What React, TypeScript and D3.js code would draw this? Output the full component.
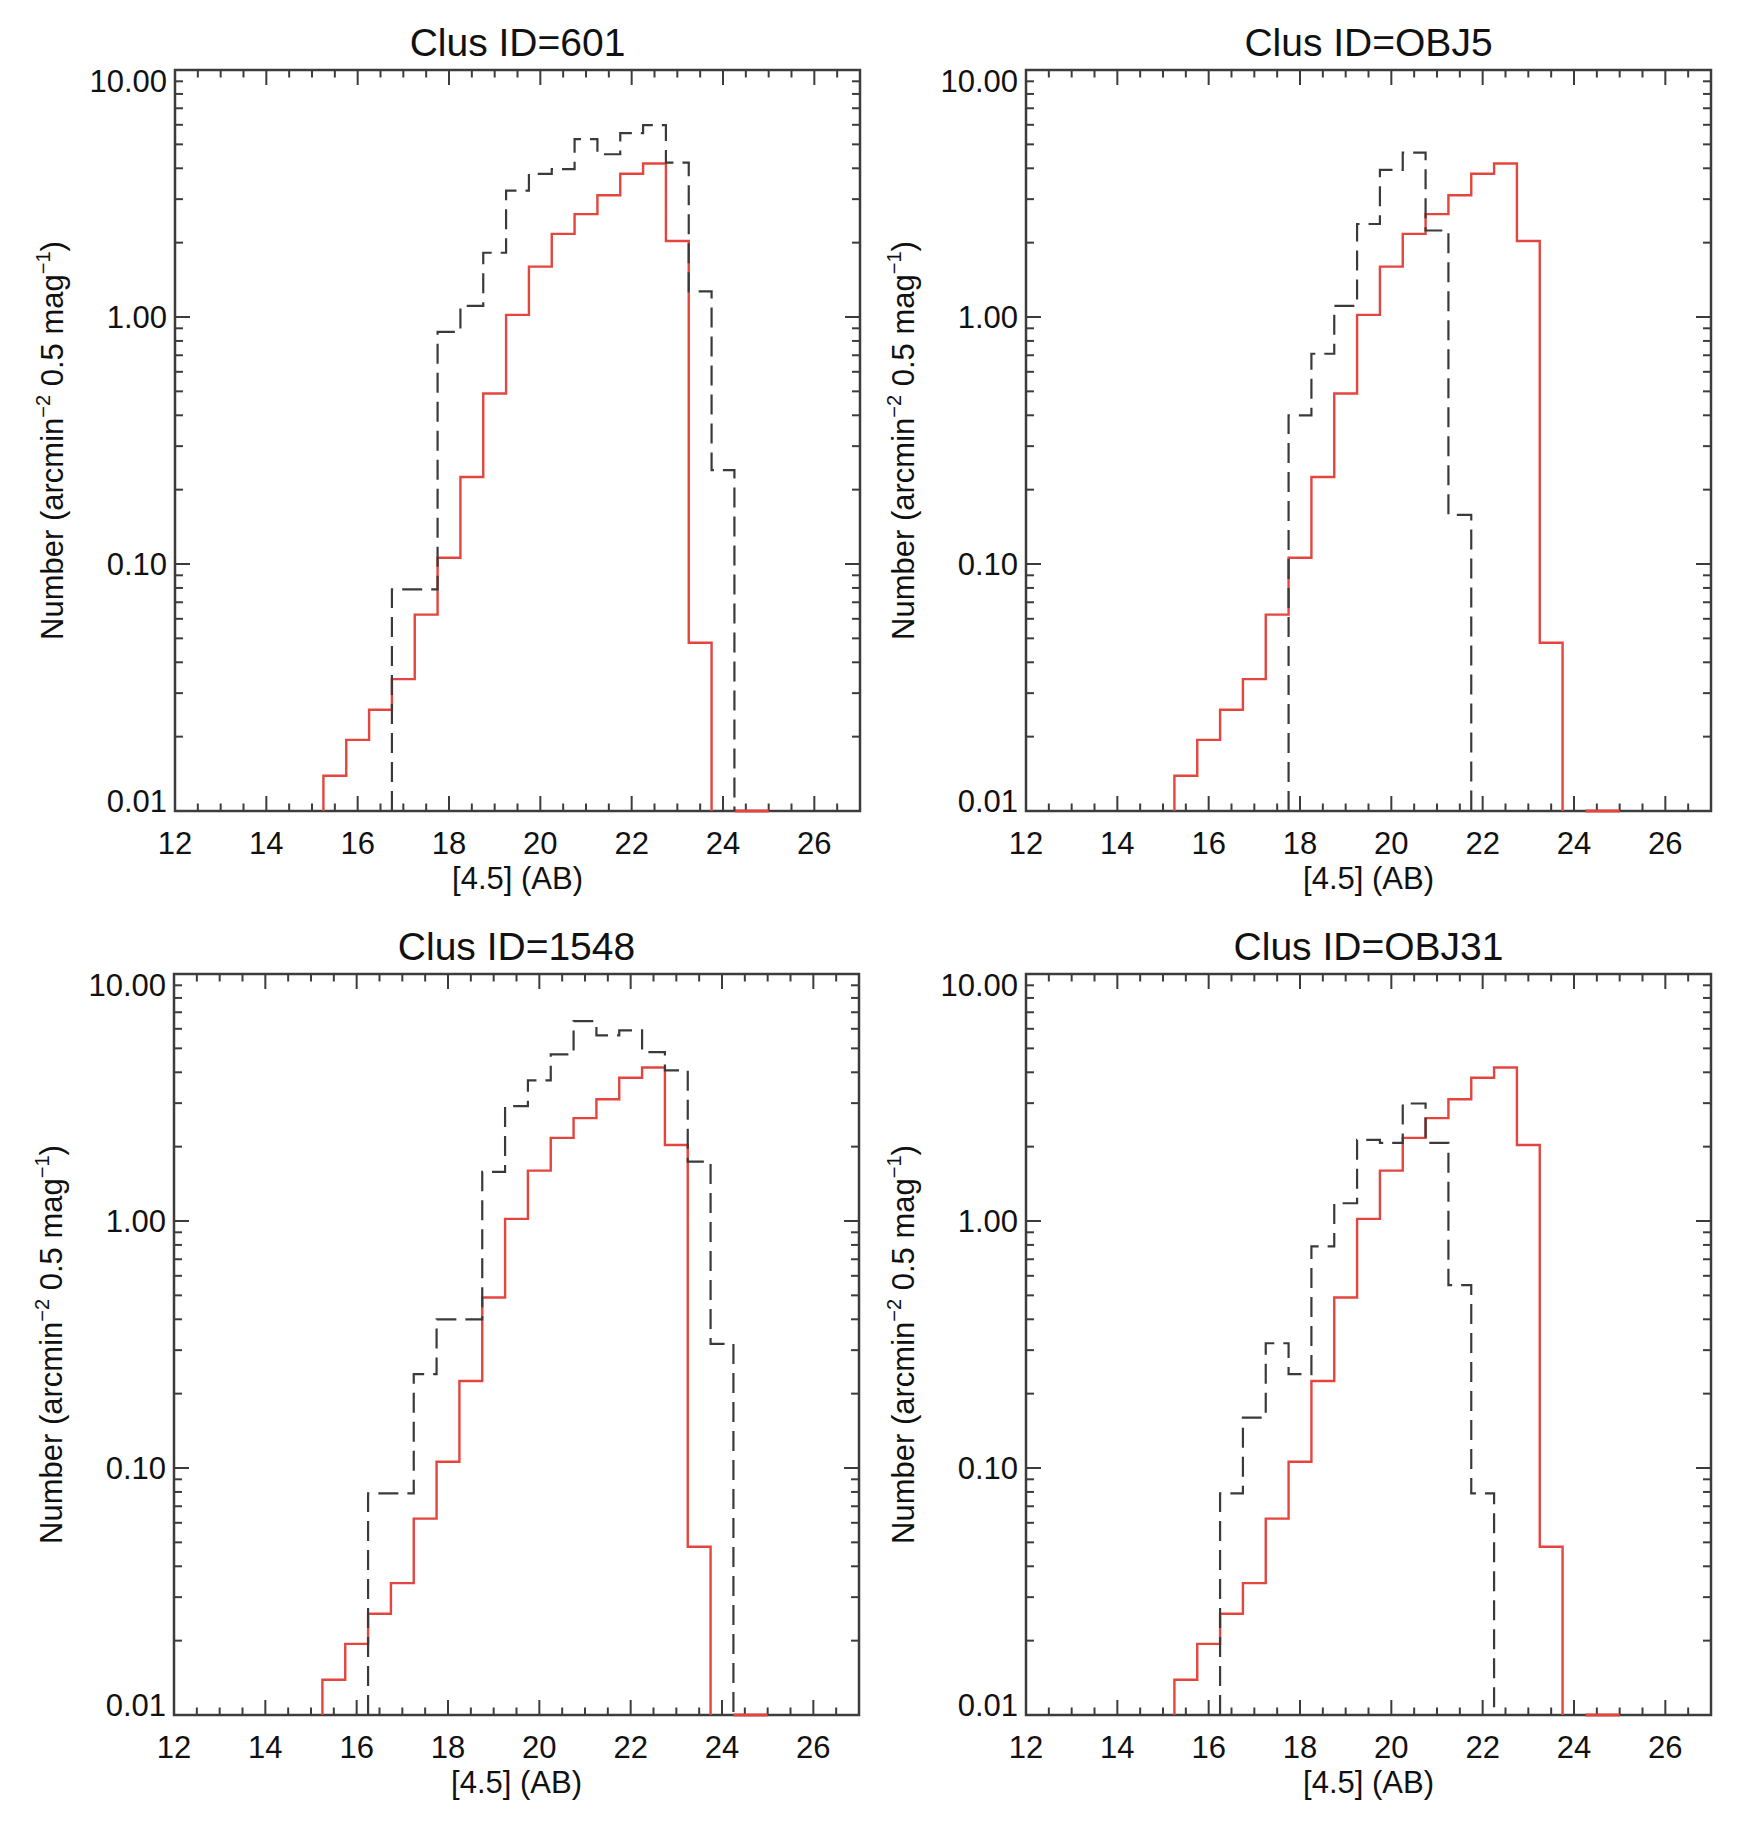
import * as d3 from 'd3'

// ── axes ──────────────────────────────────────────────────────────────────────
const X_DOMAIN: [number, number] = [12, 27]
const Y_DOMAIN: [number, number] = [0.01, 10]
const X_LABELS = [12, 14, 16, 18, 20, 22, 24, 26]
const Y_LABELS = [0.01, 0.1, 1, 10]
const Y_LABEL_TXT = ['0.01', '0.10', '1.00', '10.00']

// ── field histogram (red, same in every panel) ───────────────────────────────
const FIELD_EDGES = [15.25, 15.75, 16.25, 16.75, 17.25, 17.75, 18.25, 18.75, 19.25, 19.75, 20.25, 20.75, 21.25, 21.75, 22.25, 22.75, 23.25, 23.75]
const FIELD_N     = [0.0139, 0.0194, 0.0257, 0.0342, 0.0624, 0.106, 0.225, 0.49, 1.02, 1.6, 2.17, 2.61, 3.11, 3.8, 4.18, 2.03, 0.048]
// part of the field histogram that sits on the 0.01 floor
const FIELD_TAIL  = [24.25, 25.0]

// ── cluster histograms (dashed) ──────────────────────────────────────────────
const EDGES_601 = [16.75, 17.25, 17.75, 18.25, 18.75, 19.25, 19.75, 20.25, 20.75, 21.25, 21.75, 22.25, 22.75, 23.25, 23.75, 24.25]
const N_601     = [0.079, 0.079, 0.87, 1.11, 1.82, 3.25, 3.8, 3.97, 5.25, 4.56, 5.55, 5.98, 4.22, 1.27, 0.24]

const EDGES_OBJ5 = [17.75, 18.25, 18.75, 19.25, 19.75, 20.25, 20.75, 21.25, 21.75]
const N_OBJ5     = [0.40, 0.71, 1.11, 2.38, 3.94, 4.63, 2.24, 0.158]

const EDGES_1548 = [16.25, 16.75, 17.25, 17.75, 18.25, 18.75, 19.25, 19.75, 20.25, 20.75, 21.25, 21.75, 22.25, 22.75, 23.25, 23.75, 24.25]
const N_1548     = [0.079, 0.079, 0.24, 0.40, 0.40, 1.58, 2.92, 3.71, 4.73, 6.44, 5.64, 5.91, 4.83, 4.07, 1.74, 0.318]

const EDGES_OBJ31 = [16.25, 16.75, 17.25, 17.75, 18.25, 18.75, 19.25, 19.75, 20.25, 20.75, 21.25, 21.75, 22.25]
const N_OBJ31     = [0.079, 0.16, 0.32, 0.24, 0.79, 1.18, 2.13, 2.07, 2.99, 2.07, 0.55, 0.079]

const CLUSTERS = [
  { id: '601',   edges: EDGES_601,   n: N_601 },
  { id: 'OBJ5',  edges: EDGES_OBJ5,  n: N_OBJ5 },
  { id: '1548',  edges: EDGES_1548,  n: N_1548 },
  { id: 'OBJ31', edges: EDGES_OBJ31, n: N_OBJ31 },
]

// ── style ────────────────────────────────────────────────────────────────────
const FONT   = '"Liberation Sans", Arial, Helvetica, sans-serif'
const C_AX   = '#3c3c3c'
const C_RED  = '#e4463f'
const C_DASH = '#3a3a3a'
const PW = 685
const PH = 741
const ORIGINS = [
  { left: 175,  top: 70 },
  { left: 1026, top: 70 },
  { left: 174,  top: 974 },
  { left: 1026, top: 974 },
]

type Pt = [number, number]

// step outline: up from the floor, across each bin, back down to the floor
function stepData(edges: number[], vals: number[]): Pt[] {
  const floor = Y_DOMAIN[0]
  const pts: Pt[] = [[edges[0], floor]]
  vals.forEach((v, i) => pts.push([edges[i], v]))
  pts.push([edges[edges.length - 1], floor])
  return pts
}

function Panel({ left, top, id, edges, n }: { left: number; top: number; id: string; edges: number[]; n: number[] }) {
  const x = d3.scaleLinear().domain(X_DOMAIN).range([left, left + PW])
  const y = d3.scaleLog().domain(Y_DOMAIN).range([top + PH, top]).clamp(true)
  const bottom = top + PH
  const right = left + PW

  const line = d3.line<Pt>()
    .x(d => x(d[0]))
    .y(d => y(Math.max(d[1], Y_DOMAIN[0])))
    .curve(d3.curveStepAfter)

  const xTicks = x.ticks(30)
  const yTicks = y.ticks()
  const isMajorX = (v: number) => X_LABELS.includes(v)
  const isMajorY = (v: number) => Y_LABELS.some(m => Math.abs(m - v) < 1e-9)

  return (
    <g>
      {/* frame */}
      <rect x={left} y={top} width={PW} height={PH} fill="none" stroke={C_AX} strokeWidth={2.5} />

      {/* x ticks, top and bottom */}
      {xTicks.map(v => {
        const len = isMajorX(v) ? 15 : 7.5
        return (
          <g key={'x' + v} stroke={C_AX} strokeWidth={2}>
            <line x1={x(v)} x2={x(v)} y1={bottom} y2={bottom - len} />
            <line x1={x(v)} x2={x(v)} y1={top} y2={top + len} />
          </g>
        )
      })}

      {/* y ticks, left and right */}
      {yTicks.map(v => {
        const len = isMajorY(v) ? 15 : 8
        return (
          <g key={'y' + v} stroke={C_AX} strokeWidth={2}>
            <line x1={left} x2={left + len} y1={y(v)} y2={y(v)} />
            <line x1={right} x2={right - len} y1={y(v)} y2={y(v)} />
          </g>
        )
      })}

      {/* histograms */}
      <path d={line(stepData(FIELD_EDGES, FIELD_N)) ?? ''} fill="none" stroke={C_RED} strokeWidth={2.4} />
      <line x1={x(FIELD_TAIL[0])} x2={x(FIELD_TAIL[1])} y1={y(Y_DOMAIN[0])} y2={y(Y_DOMAIN[0])}
        stroke={C_RED} strokeWidth={3} />
      <path d={line(stepData(edges, n)) ?? ''} fill="none" stroke={C_DASH} strokeWidth={2.2}
        strokeDasharray="20,9" />

      {/* tick labels */}
      {X_LABELS.map(v => (
        <text key={'xl' + v} x={x(v)} y={bottom + 43} textAnchor="middle" fontSize={31} fontFamily={FONT} fill="#111">
          {v}
        </text>
      ))}
      {Y_LABELS.map((v, i) => {
        const dy = i === 0 ? 1 : i === Y_LABELS.length - 1 ? 22 : 11
        return (
          <text key={'yl' + v} x={left - 8} y={y(v) + dy} textAnchor="end" fontSize={31} fontFamily={FONT} fill="#111">
            {Y_LABEL_TXT[i]}
          </text>
        )
      })}

      {/* titles */}
      <text x={left + PW / 2} y={top - 14} textAnchor="middle" fontSize={39} fontFamily={FONT} fill="#111">
        {`Clus ID=${id}`}
      </text>
      <text x={left + PW / 2} y={bottom + 78} textAnchor="middle" fontSize={31} fontFamily={FONT} fill="#111">
        [4.5] (AB)
      </text>
      <text transform={`translate(${left - 112},${top + PH / 2}) rotate(-90)`} textAnchor="middle"
        fontSize={31} fontFamily={FONT} fill="#111">
        <tspan>Number (arcmin</tspan>
        <tspan fontSize={20} dy={-13}>−2</tspan>
        <tspan dy={13}> 0.5 mag</tspan>
        <tspan fontSize={20} dy={-13}>−1</tspan>
        <tspan dy={13}>)</tspan>
      </text>
    </g>
  )
}

export default function App() {
  return (
    <svg width={1755} height={1832} viewBox="0 0 1755 1832"
      style={{ position: 'absolute', left: 0, top: 0, background: '#fff', display: 'block' }}>
      {CLUSTERS.map((c, i) => (
        <Panel key={c.id} left={ORIGINS[i].left} top={ORIGINS[i].top} id={c.id} edges={c.edges} n={c.n} />
      ))}
    </svg>
  )
}
